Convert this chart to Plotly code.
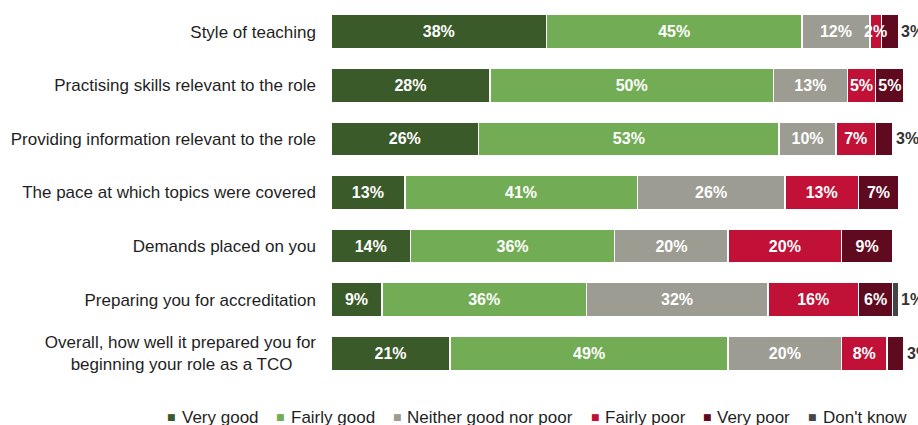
import plotly.graph_objects as go

categories = [
    "Style of teaching",
    "Practising skills relevant to the role",
    "Providing information relevant to the role",
    "The pace at which topics were covered",
    "Demands placed on you",
    "Preparing you for accreditation",
    "Overall, how well it prepared you for<br>beginning your role as a TCO" + "\u00a0" * 5,
]

series_names = ["Very good", "Fairly good", "Neither good nor poor", "Fairly poor", "Very poor", "Don't know"]
very_good = [38, 28, 26, 13, 14, 9, 21]
fairly_good = [45, 50, 53, 41, 36, 36, 49]
neither = [12, 13, 10, 26, 20, 32, 20]
fairly_poor = [2, 5, 7, 13, 20, 16, 8]
very_poor = [3, 5, 3, 7, 9, 6, 3]
dont_know = [0, 0, 0, 0, 0, 1, 0]

colors = ["#3a5a2a", "#72ad56", "#9d9c93", "#c11136", "#5f0a1e", "#454545"]

# labels drawn beside the stack end: (series index, row index)
outside_labels = [(4, 0), (4, 2), (4, 6), (5, 5)]
# labels too wide for their segment, drawn on top of the bars
overlay_labels = [(3, 0)]

series = [very_good, fairly_good, neither, fairly_poor, very_poor, dont_know]
FONT = "Liberation Sans, Arial, sans-serif"
rows = list(range(len(categories)))
X_MAX = 101  # rounded shares can add up to 101

fig = go.Figure()
for si, (name, vals, col) in enumerate(zip(series_names, series, colors)):
    texts = []
    for ri, v in enumerate(vals):
        if v == 0 or (si, ri) in outside_labels or (si, ri) in overlay_labels:
            texts.append("")
        else:
            texts.append(f"{v}%")
    fig.add_trace(go.Bar(
        name=name,
        y=rows,
        x=vals,
        orientation="h",
        marker=dict(color=col, line=dict(color="white", width=1.5)),
        text=texts,
        textposition="inside",
        textangle=0,
        insidetextanchor="middle",
        textfont=dict(family=FONT, size=16, color="white", weight="bold"),
        hoverinfo="skip",
        showlegend=False,
    ))

for si, ri in outside_labels:
    total = sum(s[ri] for s in series[:si + 1])
    fig.add_annotation(
        x=total, y=ri, xref="x", yref="y",
        text=f"{series[si][ri]}%", showarrow=False,
        xanchor="left", xshift=1,
        font=dict(family=FONT, size=16, color="#333333", weight="bold"),
    )

for si, ri in overlay_labels:
    start = sum(s[ri] for s in series[:si])
    fig.add_annotation(
        x=start + series[si][ri] / 2, y=ri, xref="x", yref="y",
        text=f"{series[si][ri]}%", showarrow=False, xanchor="center",
        font=dict(family=FONT, size=16, color="white", weight="bold"),
    )

# plot area geometry in pixels
plot_left, plot_bottom, plot_h = 331, 380, 375
plot_w = 567 * X_MAX / 100

# legend row: small coloured squares followed by the series names
legend_square_x = [172, 281, 397, 595, 707, 812]
legend_text_x = [180, 289, 405, 603, 715, 821]
legend_y = (plot_bottom - 417) / plot_h
for name, col, sx, tx in zip(series_names, colors, legend_square_x, legend_text_x):
    fig.add_annotation(
        x=(sx - plot_left) / plot_w, y=legend_y, xref="paper", yref="paper",
        text="■", showarrow=False, xanchor="center", yanchor="middle",
        font=dict(family="DejaVu Sans", size=9, color=col),
    )
    fig.add_annotation(
        x=(tx - plot_left) / plot_w, y=legend_y, xref="paper", yref="paper",
        text=name, showarrow=False, xanchor="left", yanchor="middle",
        font=dict(family=FONT, size=17, color="#1f1f1f"),
    )

fig.update_layout(
    barmode="stack",
    bargap=0.36,
    width=918,
    height=425,
    margin=dict(l=plot_left, r=918 - plot_left - plot_w, t=5, b=425 - plot_bottom, autoexpand=False),
    plot_bgcolor="white",
    paper_bgcolor="white",
    uniformtext=dict(minsize=16, mode="show"),
    font=dict(family=FONT, size=16, color="#1f1f1f"),
    xaxis=dict(range=[0, X_MAX], visible=False, fixedrange=True),
    yaxis=dict(autorange="reversed", showgrid=False, showline=False, ticks="",
               tickmode="array", tickvals=rows, ticktext=categories,
               ticklabelstandoff=14, tickfont=dict(size=17, color="#1f1f1f")),
    showlegend=False,
)

fig.write_html("out.html")
